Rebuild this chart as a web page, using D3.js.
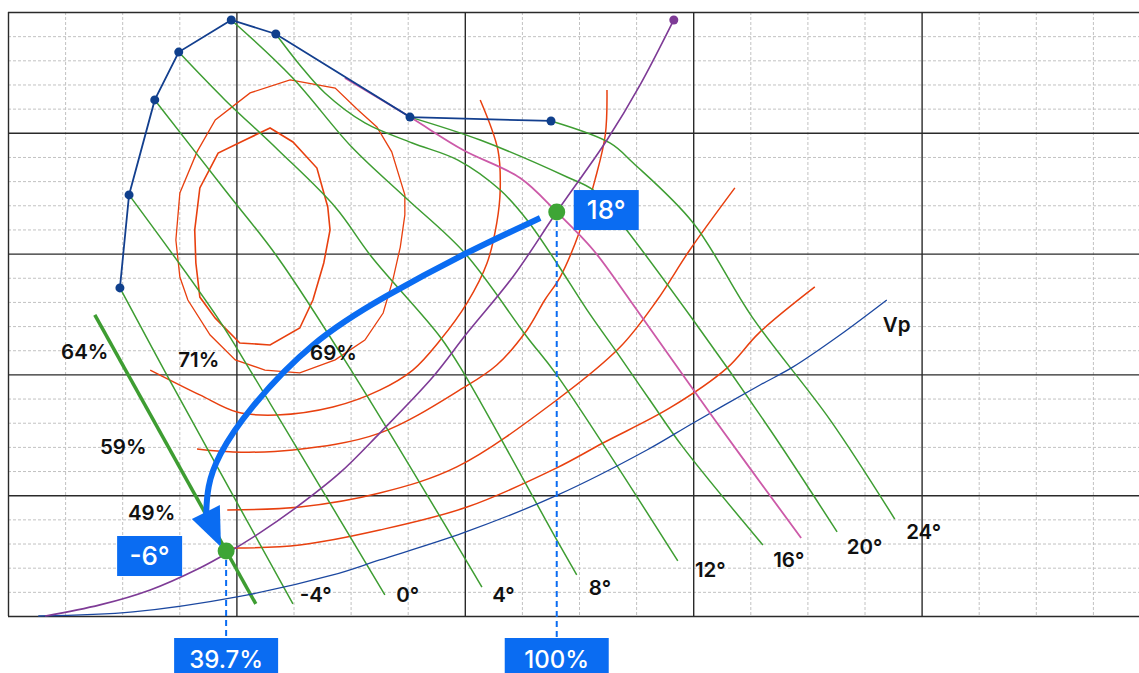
<!DOCTYPE html>
<html>
<head>
<meta charset="utf-8">
<script src="https://cdn.jsdelivr.net/npm/d3@7"></script>
<style>
  body { margin: 0; background: #fff; }
  svg { display: block; font-family: "Inter", "Liberation Sans", sans-serif; }
  .minor line { stroke: #c2c2c2; stroke-dasharray: 3,2; }
  .major line { stroke: #2a2a2a; stroke-width: 1.4; }
  .domain { display: none; }
  .curve { fill: none; }
  .lbl { font-size: 20.5px; font-weight: 600; fill: #111; }
  .box-lbl { font-weight: 500; fill: #fff; }
</style>
</head>
<body>
<svg id="chart" width="1139" height="673"></svg>
<script>
"use strict";

// grid units: x = flow (1 unit = one minor column), y = pressure (1 unit = one minor row)

// surge envelope (blade angle limit points)
const envelope = [
  [1.96, 13.58], [2.12, 17.43], [2.57, 21.36], [2.99, 23.34],
  [3.91, 24.67], [4.69, 24.09], [7.04, 20.65], [9.51, 20.49]
];

// blade angle lines
const angleNames = ["-4°", "0°", "4°", "8°", "12°", "16°", "20°", "24°"];
const angleLines = [
  [[1.96, 13.58], [2.78, 9.98], [4.99, 0.50]],
  [[2.12, 17.43], [3.66, 12.38], [4.29, 9.98], [6.60, 0.87]],
  [[2.57, 21.36], [3.80, 17.63], [4.73, 14.82], [6.06, 9.98], [8.30, 1.20]],
  [[2.99, 23.34], [3.80, 21.36], [4.73, 19.29], [5.73, 16.93], [6.37, 14.86], [7.57, 11.55], [8.00, 9.98], [9.61, 3.15], [9.96, 1.70]],
  [[3.91, 24.67], [4.97, 22.31], [6.02, 19.41], [6.95, 17.34], [8.00, 15.02], [9.09, 11.55], [9.61, 9.98], [11.73, 2.28]],
  [[4.69, 24.09], [5.11, 22.81], [5.55, 21.65], [6.25, 20.41], [7.08, 19.58], [7.88, 18.87], [8.62, 17.63], [9.09, 16.39],
   [9.61, 14.61], [10.14, 12.67], [10.67, 10.89], [11.24, 8.94], [11.82, 6.99], [13.22, 2.94]],
  [[7.04, 20.65], [8.27, 19.70], [9.79, 18.17], [10.25, 17.63], [10.60, 16.68], [12.00, 12.25], [13.35, 7.70], [14.52, 3.48]],
  [[9.51, 20.49], [10.54, 19.58], [10.95, 18.75], [12.00, 16.27], [13.03, 12.38], [14.40, 8.11], [15.53, 4.01]]
];
const angleLabelPos = [
  [5.11, 0.87], [6.80, 0.87], [8.48, 0.87], [10.17, 1.16],
  [12.03, 1.90], [13.40, 2.32], [14.69, 2.86], [15.73, 3.48]
];

// operating blade angle lines
const lineMinus6 = [[1.52, 12.46], [4.34, 0.50]];
const line18 = [
  [5.90, 22.27], [7.04, 20.65], [7.97, 19.29], [8.97, 18.13], [9.61, 16.72],
  [10.25, 15.15], [10.89, 13.08], [12.38, 8.11], [13.89, 3.23]
];

// efficiency contours
const effInner = [
  [4.59, 20.20], [4.99, 19.62], [5.41, 18.54], [5.60, 16.93], [5.64, 15.98], [5.53, 14.61],
  [5.34, 13.08], [5.11, 11.92], [4.59, 11.22], [4.06, 11.30], [3.63, 12.33], [3.36, 13.20],
  [3.29, 14.61], [3.27, 15.98], [3.36, 17.72], [3.68, 19.16], [4.15, 19.70]
];
const effOuter = [
  [4.94, 22.19], [5.73, 21.85], [6.13, 20.94], [6.46, 20.24], [6.72, 19.21], [6.95, 17.43],
  [6.95, 16.60], [6.87, 15.27], [6.74, 13.91], [6.57, 12.54], [6.25, 11.42], [5.73, 10.60],
  [5.11, 10.06], [4.50, 10.18], [3.98, 10.60], [3.54, 11.63], [3.15, 13.08], [3.01, 14.03],
  [2.94, 15.56], [3.01, 17.51], [3.31, 19.21], [3.63, 20.53], [4.24, 21.65]
];
const effOpen = [
  [[2.49, 10.18], [3.36, 9.15], [4.01, 8.44], [4.71, 8.32], [5.69, 8.65], [6.51, 9.35], [7.09, 10.18],
   [7.57, 11.42], [8.04, 12.96], [8.39, 14.61], [8.56, 16.27], [8.62, 17.63], [8.58, 19.29], [8.27, 21.36]],
  [[3.31, 6.91], [3.94, 6.79], [4.99, 6.87], [6.51, 7.57], [7.97, 9.44], [8.56, 10.39], [9.09, 11.84],
   [9.40, 13.08], [9.67, 14.03], [10.02, 15.98], [10.28, 18.05], [10.46, 19.91], [10.49, 21.77]],
  [[3.84, 4.39], [5.11, 4.51], [6.51, 5.09], [7.86, 6.17], [9.61, 8.94], [10.72, 11.13], [11.37, 13.08],
   [11.94, 15.15], [12.73, 17.72]],
  [[3.94, 2.81], [5.11, 2.94], [6.51, 3.56], [8.04, 4.51], [9.61, 6.13], [10.42, 7.16], [11.59, 8.61],
   [12.59, 10.26], [13.15, 11.71], [14.13, 13.62]]
];
const effNames = ["64%", "71%", "69%", "59%", "49%"];
const effLabelPos = [[0.93, 10.93], [2.98, 10.60], [5.29, 10.89], [1.61, 7.00], [2.10, 4.26]];

// system curve and Vp curve
const systemCurve = [
  [0.65, 0], [1.61, 0.46], [2.49, 1.08], [3.36, 1.99], [3.84, 2.61], [4.41, 3.44], [4.99, 4.39],
  [5.81, 5.92], [6.51, 7.57], [7.44, 9.89], [8.04, 11.71], [8.84, 14.03], [9.61, 16.72],
  [10.49, 19.70], [11.07, 21.98], [11.66, 24.67]
];
const vpCurve = [
  [0.53, 0], [2.19, 0.17], [4.01, 0.79], [5.69, 1.70], [6.51, 2.32], [7.97, 3.44], [9.63, 5.01],
  [11.19, 6.87], [12.00, 7.99], [13.17, 9.56], [13.75, 10.31], [14.57, 11.63], [15.39, 13.08]
];
const vpLabelPos = [15.32, 12.04];

// operating points: design (18°, 100% flow) and reduced (-6°, 39.7% flow)
const opPoints = [[9.61, 16.72], [3.82, 2.69]];
const opAngles = ["18°", "-6°"];
const opFlows = ["100%", "39.7%"];

// arrow from design point to reduced point
const arrowPath = [
  [9.32, 16.47], [8.04, 15.07], [6.57, 13.20], [5.34, 11.42], [4.19, 8.53],
  [3.66, 6.58], [3.49, 5.34], [3.47, 4.18]
];
const arrowHead = [[3.22, 4.01], [3.71, 4.59], [3.73, 2.86]];

const xTicks = d3.range(0, 21);
const yTicks = d3.range(0, 26);

// ---- layout
const plot = {left: 8, top: 12, bottom: 616};

const xScale = d3.scaleLinear().domain([0, 20]).range([plot.left, plot.left + 20 * 57.1]);
const yScale = d3.scaleLinear().domain([0, 25]).range([plot.bottom, plot.top]);

const svg = d3.select("#chart");
const plotW = xScale(20) - plot.left, plotH = plot.bottom - plot.top;

// minor grid
svg.append("g")
    .attr("class", "minor")
    .attr("transform", "translate(0," + plot.top + ")")
    .call(d3.axisTop(xScale).tickValues(xTicks.filter(d => d % 4)).tickSize(-plotH).tickFormat(""));
svg.append("g")
    .attr("class", "minor")
    .attr("transform", "translate(" + plot.left + ",0)")
    .call(d3.axisLeft(yScale).tickValues(yTicks.filter(d => d % 5)).tickSize(-plotW).tickFormat(""));

// major grid
svg.append("g")
    .attr("class", "major")
    .attr("transform", "translate(0," + plot.top + ")")
    .call(d3.axisTop(xScale).tickValues(xTicks.filter(d => d % 4 === 0)).tickSize(-plotH).tickFormat(""));
svg.append("g")
    .attr("class", "major")
    .attr("transform", "translate(" + plot.left + ",0)")
    .call(d3.axisLeft(yScale).tickValues(yTicks.filter(d => d % 5 === 0)).tickSize(-plotW).tickFormat(""));

const line = d3.line().x(d => xScale(d[0])).y(d => yScale(d[1]));
const smooth = d3.line().x(d => xScale(d[0])).y(d => yScale(d[1])).curve(d3.curveCatmullRom.alpha(0.5));
const closed = d3.line().x(d => xScale(d[0])).y(d => yScale(d[1])).curve(d3.curveLinearClosed);

// efficiency curves
svg.append("g").selectAll("path")
    .data(effOpen)
    .join("path")
    .attr("class", "curve")
    .attr("stroke", "#e8400f")
    .attr("stroke-width", 1.5)
    .attr("d", smooth);
svg.append("path").datum(effOuter)
    .attr("class", "curve").attr("stroke", "#e8400f").attr("stroke-width", 1.3)
    .attr("d", closed);
svg.append("path").datum(effInner)
    .attr("class", "curve").attr("stroke", "#e8400f").attr("stroke-width", 1.6)
    .attr("d", closed);

// blade angle lines
svg.append("g").selectAll("path")
    .data(angleLines)
    .join("path")
    .attr("class", "curve")
    .attr("stroke", "#3e9d32")
    .attr("stroke-width", 1.5)
    .attr("d", smooth);
svg.append("path").datum(lineMinus6)
    .attr("class", "curve").attr("stroke", "#3e9d32").attr("stroke-width", 3.5)
    .attr("d", line);

// Vp and system curve
svg.append("path").datum(vpCurve)
    .attr("class", "curve").attr("stroke", "#1c48a0").attr("stroke-width", 1.3)
    .attr("d", smooth);
svg.append("path").datum(line18)
    .attr("class", "curve").attr("stroke", "#cc5aa8").attr("stroke-width", 1.8)
    .attr("d", smooth);
svg.append("path").datum(systemCurve)
    .attr("class", "curve").attr("stroke", "#7e3b96").attr("stroke-width", 1.6)
    .attr("d", smooth);
svg.append("circle")
    .attr("cx", xScale(systemCurve[systemCurve.length - 1][0]))
    .attr("cy", yScale(systemCurve[systemCurve.length - 1][1]))
    .attr("r", 4.5).attr("fill", "#7e3b96");

// surge envelope
svg.append("path").datum(envelope)
    .attr("class", "curve").attr("stroke", "#133f8e").attr("stroke-width", 1.8)
    .attr("d", line);
svg.selectAll(".env-dot")
    .data(envelope)
    .join("circle")
    .attr("class", "env-dot")
    .attr("cx", d => xScale(d[0]))
    .attr("cy", d => yScale(d[1]))
    .attr("r", 4.5)
    .attr("fill", "#0f3f8c");

// dashed drop lines to the flow labels
const dropBottom = 638;
svg.selectAll(".drop")
    .data(opPoints)
    .join("line")
    .attr("class", "drop")
    .attr("x1", d => xScale(d[0]))
    .attr("x2", d => xScale(d[0]))
    .attr("y1", d => yScale(d[1]) + 9)
    .attr("y2", dropBottom)
    .attr("stroke", "#0a6cf2")
    .attr("stroke-width", 2)
    .attr("stroke-dasharray", "6,4");

// arrow
svg.append("path").datum(arrowPath)
    .attr("class", "curve").attr("stroke", "#0a6cf2").attr("stroke-width", 6)
    .attr("d", d3.line().x(d => xScale(d[0])).y(d => yScale(d[1])).curve(d3.curveBasis));
svg.append("path").datum(arrowHead)
    .attr("fill", "#0a6cf2")
    .attr("d", closed);

// operating points
svg.selectAll(".op")
    .data(opPoints)
    .join("circle")
    .attr("class", "op")
    .attr("cx", d => xScale(d[0]))
    .attr("cy", d => yScale(d[1]))
    .attr("r", 8.5)
    .attr("fill", "#3ea535");

// angle boxes next to the points
const angleBox = [{dx: 17, dy: -22}, {dx: -109, dy: -15}];
opPoints.forEach((p, i) => {
    const bx = xScale(p[0]) + angleBox[i].dx, by = yScale(p[1]) + angleBox[i].dy;
    svg.append("rect").attr("x", bx).attr("y", by).attr("width", 65).attr("height", 40)
        .attr("fill", "#0a6cf2");
    svg.append("text").attr("class", "box-lbl")
        .style("font-size", "26px")
        .attr("x", bx + 32.5).attr("y", by + 20)
        .attr("text-anchor", "middle").attr("dy", "0.36em")
        .text(opAngles[i]);
});

// flow boxes under the chart
opPoints.forEach((p, i) => {
    const cx = xScale(p[0]);
    svg.append("rect").attr("x", cx - 52).attr("y", dropBottom).attr("width", 104).attr("height", 38)
        .attr("fill", "#0a6cf2");
    svg.append("text").attr("class", "box-lbl")
        .style("font-size", "24px")
        .attr("x", cx).attr("y", dropBottom + 21)
        .attr("text-anchor", "middle").attr("dy", "0.36em")
        .text(opFlows[i]);
});

// text labels
svg.selectAll(".angle-lbl")
    .data(angleNames)
    .join("text")
    .attr("class", "lbl angle-lbl")
    .attr("x", (d, i) => xScale(angleLabelPos[i][0]))
    .attr("y", (d, i) => yScale(angleLabelPos[i][1]))
    .attr("dy", "0.36em")
    .text(d => d);
svg.selectAll(".eff-lbl")
    .data(effNames)
    .join("text")
    .attr("class", "lbl eff-lbl")
    .attr("x", (d, i) => xScale(effLabelPos[i][0]))
    .attr("y", (d, i) => yScale(effLabelPos[i][1]))
    .attr("dy", "0.36em")
    .text(d => d);
svg.append("text")
    .attr("class", "lbl")
    .attr("x", xScale(vpLabelPos[0]))
    .attr("y", yScale(vpLabelPos[1]))
    .attr("dy", "0.36em")
    .text("Vp");
</script>
</body>
</html>
